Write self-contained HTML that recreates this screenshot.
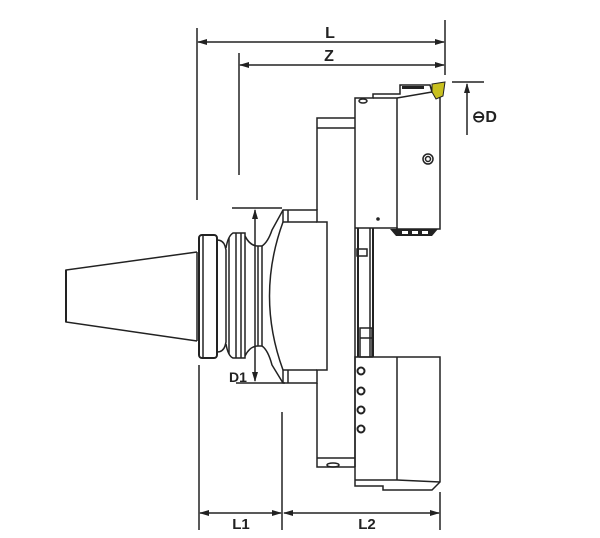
<!DOCTYPE html>
<html><head><style>
html,body{margin:0;padding:0;background:#fff;}
svg{display:block;}
text{font-family:"Liberation Sans",sans-serif;font-weight:bold;fill:#222;}
</style></head><body>
<svg width="600" height="538" viewBox="0 0 600 538" xmlns="http://www.w3.org/2000/svg">
<defs>
<marker id="a" markerWidth="10" markerHeight="6" refX="9" refY="3" orient="auto-start-reverse" markerUnits="userSpaceOnUse"><path d="M0,0 L10,3 L0,6 z" fill="#222"/></marker>
</defs>
<g stroke="#222" stroke-width="1.5" fill="none">
<line x1="197" y1="28" x2="197" y2="200"/>
<line x1="445" y1="20" x2="445" y2="75"/>
<line x1="198" y1="42" x2="444" y2="42" marker-start="url(#a)" marker-end="url(#a)"/>
<line x1="239" y1="53" x2="239" y2="175"/>
<line x1="240" y1="65" x2="444" y2="65" marker-start="url(#a)" marker-end="url(#a)"/>
<line x1="452" y1="82" x2="484" y2="82"/>
<line x1="467" y1="135" x2="467" y2="84" marker-end="url(#a)"/>
<!-- taper -->
<path d="M197,252 L66,270 L66,322 L197,341"/>
<line x1="66" y1="270" x2="66" y2="322" stroke-width="2"/>
<line x1="197" y1="252" x2="197" y2="341"/>
<!-- flange -->
<rect x="199" y="235" width="18" height="123" rx="3" stroke-width="2"/>
<line x1="203" y1="235" x2="203" y2="358"/>
<path d="M217,240 Q223,240 225,246 L226,250 L226,342 L225,346 Q223,352 217,352"/>
<path d="M226,248 Q228,236 233,233 L245,233 L245,358 L233,358 Q228,356 226,344"/>
<line x1="229" y1="238" x2="229" y2="354"/>
<line x1="236" y1="233" x2="236" y2="358"/>
<line x1="241" y1="233" x2="241" y2="358"/>
<path d="M245,236 Q250,246 258,246 L262,246 L262,346 L258,346 Q250,346 245,356"/>
<line x1="258" y1="246" x2="258" y2="346"/>
<path d="M262,246 Q268,242 272,230 L283,210 L317,210 L317,222 L327,222 L327,370 L317,370 L317,383 L283,383 L272,365 Q268,350 262,346"/>
<path d="M283,222 Q256,296 283,370"/>
<line x1="283" y1="210" x2="283" y2="222"/>
<line x1="283" y1="370" x2="283" y2="383"/>
<line x1="288" y1="210" x2="288" y2="222"/>
<line x1="288" y1="370" x2="288" y2="383"/>
<line x1="283" y1="222" x2="317" y2="222"/>
<line x1="283" y1="370" x2="317" y2="370"/>
<!-- D1 -->
<line x1="232" y1="208" x2="282" y2="208"/>
<line x1="236" y1="383" x2="285" y2="383"/>
<line x1="255" y1="210" x2="255" y2="381" marker-start="url(#a)" marker-end="url(#a)"/>
<!-- plate -->
<path d="M317,210 L317,118 L355,118"/>
<line x1="317" y1="128" x2="355" y2="128"/>
<path d="M317,383 L317,467 L355,467"/>
<line x1="317" y1="458" x2="355" y2="458"/>
<ellipse cx="333" cy="465" rx="6" ry="2"/>
<!-- upper tool block -->
<path d="M355,467 L355,98 L373,98 L373,94 L400,94 L400,85 L430,85 L432,92 L440,98 L440,229 L397,229 L397,228 L355,228"/>
<line x1="397" y1="98" x2="397" y2="229"/>
<path d="M373,98 L397,98 L432,92"/>
<circle cx="428" cy="159" r="5"/>
<circle cx="428" cy="159" r="2.5"/>
<ellipse cx="363" cy="101" rx="4" ry="2"/>
<!-- rail -->
<line x1="373" y1="228" x2="373" y2="357" stroke-width="2"/>
<line x1="370" y1="228" x2="370" y2="357"/>
<line x1="358" y1="228" x2="358" y2="357" stroke-width="2"/>
<rect x="357" y="249" width="10" height="7"/>
<rect x="360" y="328" width="12" height="29"/>
<line x1="360" y1="338" x2="372" y2="338"/>
<!-- lower tool block -->
<path d="M355,357 L440,357 L440,482 L432,490 L383,490 L383,486 L355,486 Z"/>
<line x1="355" y1="480" x2="397" y2="480"/>
<path d="M397,480 L440,482"/>
<line x1="397" y1="357" x2="397" y2="480"/>
<!-- L1 L2 -->
<line x1="199" y1="365" x2="199" y2="530"/>
<line x1="282" y1="412" x2="282" y2="530"/>
<line x1="440" y1="492" x2="440" y2="530"/>
<line x1="200" y1="513" x2="281" y2="513" marker-start="url(#a)" marker-end="url(#a)"/>
<line x1="284" y1="513" x2="439" y2="513" marker-start="url(#a)" marker-end="url(#a)"/>
</g>
<g fill="#222">
<circle cx="378" cy="219" r="1.8"/>
<path d="M390,229 L438,229 L432,236 L396,236 Z"/>
<rect x="402" y="86" width="22" height="3"/>
<g stroke="#222" stroke-width="2" fill="#fff">
<circle cx="361" cy="371" r="3.5"/><circle cx="361" cy="391" r="3.5"/><circle cx="361" cy="410" r="3.5"/><circle cx="361" cy="429" r="3.5"/>
</g>
</g>
<path d="M432,84 L445,82 L443,96 L436,99 L432,92 Z" fill="#c8c020" stroke="#222" stroke-width="1"/>
<g fill="#fff"><rect x="402" y="231" width="6" height="3"/><rect x="412" y="231" width="6" height="3"/><rect x="422" y="231" width="6" height="3"/></g>
<text x="330" y="38" font-size="16" text-anchor="middle">L</text>
<text x="329" y="61" font-size="16" text-anchor="middle">Z</text>
<text x="472" y="122" font-size="16">⊖D</text>
<text x="229" y="382" font-size="14">D1</text>
<text x="241" y="529" font-size="15" text-anchor="middle">L1</text>
<text x="367" y="529" font-size="15" text-anchor="middle">L2</text>
</svg>
</body></html>
